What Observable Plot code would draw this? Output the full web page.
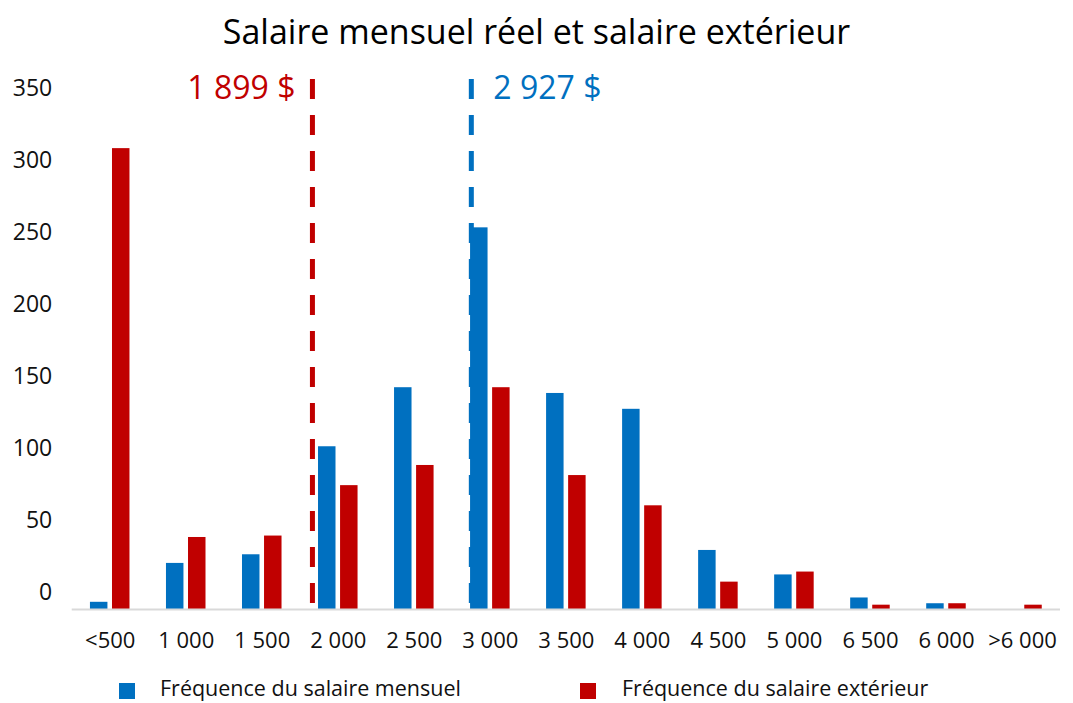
<!DOCTYPE html>
<html><head><meta charset="utf-8">
<script src="https://cdn.jsdelivr.net/npm/d3@7"></script>
<script src="https://cdn.jsdelivr.net/npm/@observablehq/plot@0.6"></script>
<style>
body{margin:0;background:#fff;font-family:"Open Sans",sans-serif;width:1073px;height:703px;overflow:hidden;}
#title{height:60px;line-height:62px;text-align:center;font-size:34px;color:#000;}
#chart svg{display:block;}
#legend{position:relative;height:35px;font-size:21.5px;color:#111;}
.sw{position:absolute;top:15px;width:16px;height:16px;}
.lt{position:absolute;top:10px;line-height:20px;white-space:nowrap;}
</style></head>
<body>
<div id="title">Salaire mensuel réel et salaire extérieur</div>
<div id="chart"></div>
<div id="legend">
  <div class="sw" style="left:119px;background:#0070C0"></div><div class="lt" style="left:160px">Fréquence du salaire mensuel</div>
  <div class="sw" style="left:580px;background:#C00000"></div><div class="lt" style="left:622px">Fréquence du salaire extérieur</div>
</div>
<script>
const categories = ["<500","1 000","1 500","2 000","2 500","3 000","3 500","4 000","4 500","5 000","6 500","6 000",">6 000"];
const mensuel   = [5, 32, 38, 113, 154, 265, 150, 139, 41, 24, 8, 4, 0];
const exterieur = [320, 50, 51, 86, 100, 154, 93, 72, 19, 26, 3, 4, 3];
const yTicks = [0, 50, 100, 150, 200, 250, 300, 350];
const medianLabels = ["1 899 $", "2 927 $"];
const medianPositions = [2.66, 4.75]; // position on the category axis
const BLUE = "#0070C0", RED = "#C00000";

const rows = categories.map((c, i) => ({i, c, m: mensuel[i], e: exterieur[i]}));
const medRed = [{pos: medianPositions[0], label: medianLabels[0]}];
const medBlue = [{pos: medianPositions[1], label: medianLabels[1]}];

const chart = Plot.plot({
  width: 1073,
  height: 608,
  marginLeft: 71.7,
  marginRight: 13,
  marginTop: 19,
  marginBottom: 59,
  style: {fontFamily: "'Open Sans', sans-serif", fontSize: "22px", color: "#111", background: "#fff"},
  x: {domain: [-0.5, 12.5]},
  y: {domain: [0, 368]},
  marks: [
    Plot.rectY(rows, {x1: d => d.i - 0.26, x2: d => d.i - 0.03, y: "m", fill: BLUE}),
    Plot.rectY(rows, {x1: d => d.i + 0.03, x2: d => d.i + 0.26, y: "e", fill: RED}),
    Plot.ruleY([0], {stroke: "#d9d9d9", strokeWidth: 2}),
    Plot.ruleX(medRed, {x: "pos", stroke: RED, strokeWidth: 5, strokeDasharray: "20,16"}),
    Plot.ruleX(medBlue, {x: "pos", stroke: BLUE, strokeWidth: 5, strokeDasharray: "20,16"}),
    Plot.text(medRed, {x: "pos", text: "label", fill: RED, frameAnchor: "top", textAnchor: "end", lineAnchor: "middle", dx: -17, dy: 9, fontSize: 32}),
    Plot.text(medBlue, {x: "pos", text: "label", fill: BLUE, frameAnchor: "top", textAnchor: "start", lineAnchor: "middle", dx: 22, dy: 9, fontSize: 32}),
    Plot.axisY({ticks: yTicks, tickSize: 0, tickPadding: 20, dy: -17, fill: "#111", fontSize: 23, label: null}),
    Plot.axisX({ticks: categories.map((_, i) => i), tickFormat: i => categories[i], tickSize: 0, tickPadding: 23, fill: "#111", fontSize: 22, label: null})
  ]
});
document.getElementById("chart").appendChild(chart);
</script>
</body></html>
